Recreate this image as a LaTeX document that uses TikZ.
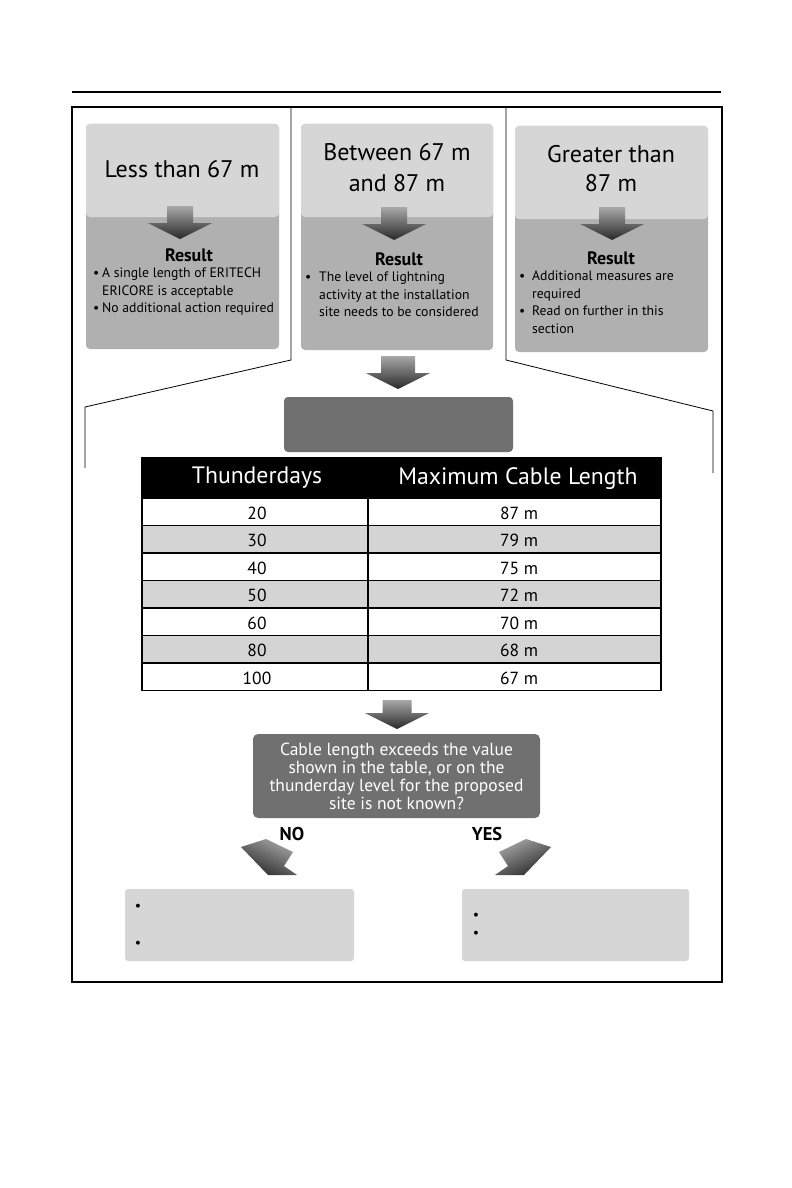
\documentclass[tikz,border=0pt]{standalone}
\usepackage{fontspec}
\setmainfont{PT Sans}
\definecolor{boxtop}{gray}{0.84}
\definecolor{boxbot}{gray}{0.69}
\definecolor{darkbox}{gray}{0.44}
\definecolor{rowgray}{gray}{0.83}
\definecolor{arrowlight}{gray}{0.66}
\definecolor{arrowdark}{gray}{0.16}
\begin{document}
\begin{tikzpicture}[x=1pt,y=-1pt,
  titletext/.style={font=\fontsize{24}{31}\selectfont, align=center, inner sep=0pt},
  restext/.style={font=\bfseries\fontsize{18}{20}\selectfont, inner sep=0pt},
  bultext/.style={font=\fontsize{13.7}{17.5}\selectfont, align=left, inner sep=0pt, anchor=north west},
  hdrtext/.style={font=\fontsize{23.7}{26}\selectfont, text=white, inner sep=0pt},
  celltext/.style={font=\fontsize{17.5}{20}\selectfont, inner sep=0pt},
  twotone/.style 2 args={rectangle, rounded corners=4pt, fill=boxbot, inner sep=0pt,
     minimum width=#1, minimum height=#2,
     path picture={\fill[boxtop] (path picture bounding box.north west) rectangle ([yshift=-93pt]path picture bounding box.north east);}},
  flatbox/.style={rectangle, rounded corners=4pt, inner sep=0pt},
  thinline/.style={line width=0.8pt},
  pics/dnarrow/.style n args={2}{code={
     \shade[top color=arrowlight, bottom color=arrowdark]
       (-#1,0) -- (#1,0) -- (#1,#2) -- (32,#2) -- (0,#2+16) -- (-32,#2) -- (-#1,#2) -- cycle;}}
]
\useasboundingbox (0,0) rectangle (792,1188);
\fill[white] (0,0) rectangle (792,1188);

% top rule and frame
\draw[line width=2.5pt] (72,92) -- (721,92);
\draw[line width=2pt] (72,107) rectangle (722,982);

% callout lines
\coordinate (la) at (291,107);
\coordinate (lb) at (291,360);
\coordinate (lc) at (85,407);
\coordinate (ld) at (85,468);
\coordinate (ra) at (506,107);
\coordinate (rb) at (506,360);
\coordinate (rc) at (713,411);
\coordinate (rd) at (713,473);
\draw[thinline] (la) -- (lb) -- (lc) -- (ld);
\draw[thinline] (ra) -- (rb) -- (rc) -- (rd);

% top boxes
\node[twotone={193pt}{225pt}] (b1) at (182.5,236.5) {};
\node[twotone={192pt}{226pt}] (b2) at (397,237) {};
\node[twotone={193pt}{226pt}] (b3) at (611.5,239) {};

\node[titletext, anchor=base] (t1) at (182,177) {Less than 67 m};
\node[titletext] (t2) at (397,168) {Between 67 m\\and 87 m};
\node[titletext, font=\fontsize{24}{29}\selectfont] (t3) at (611,169) {Greater than\\87 m};

\pic at (180,206) {dnarrow={13}{17}};
\pic at (394,207) {dnarrow={13}{17}};
\pic at (612,207) {dnarrow={13}{17}};

\node[restext] (r1) at (189,255) {Result};
\node[restext] (r2) at (399,259) {Result};
\node[restext] (r3) at (611,258) {Result};

\node[bultext] (u1) at (102,268) {\llap{\textbullet\hspace{3pt}}A single length of ERITECH\\ERICORE is acceptable\\\llap{\textbullet\hspace{3pt}}No additional action required};
\node[bultext] (u2) at (319,272) {\llap{\textbullet\hspace{8pt}}The level of lightning\\activity at the installation\\site needs to be considered};
\node[bultext] (u3) at (532,271) {\llap{\textbullet\hspace{7pt}}Additional measures are\\required\\\llap{\textbullet\hspace{7pt}}Read on further in this\\section};

% middle arrow and dark box
\pic at (398,356) {dnarrow={17}{17}};
\node[flatbox, fill=darkbox, minimum width=229pt, minimum height=55pt] (mid) at (398.5,424.5) {};

% table
\fill[black] (142,457) rectangle (661,498);
\node[hdrtext] (h1) at (257,478) {Thunderdays};
\node[hdrtext] (h2) at (518,479) {Maximum Cable Length};
\foreach \i/\a/\b in {1/20/87,2/30/79,3/40/75,4/50/72,5/60/70,6/80/68,7/100/67}{
  \pgfmathsetmacro{\top}{498+27.5*(\i-1)}
  \ifodd\i\else
    \fill[rowgray] (142,\top) rectangle (661,\top+27.5);
  \fi
  \node[celltext] (ca\i) at (257,\top+15) {\a};
  \node[celltext] (cb\i) at (519,\top+15) {\b\ m};
}
\foreach \i in {0,...,7}{
  \draw[line width=1.3pt] (142,498+27.5*\i) -- (661,498+27.5*\i);
}
\draw[line width=1.3pt] (142,457) -- (142,690.5);
\draw[line width=1.3pt] (661,457) -- (661,690.5);
\draw[line width=1.3pt] (368,498) -- (368,690.5);

% lower arrow and question box
\pic at (397,700) {dnarrow={14.5}{13}};
\node[flatbox, rounded corners=5pt, fill=darkbox, minimum width=287pt, minimum height=84pt,
      text=white, align=center, font=\fontsize{17.5}{18}\selectfont] (q) at (396.5,776)
      {Cable length exceeds the value\\shown in the table, or on the\\thunderday level for the proposed\\site is not known?};

\node[font=\bfseries\fontsize{18.5}{20}\selectfont, inner sep=0pt] (no) at (292,834) {NO};
\node[font=\bfseries\fontsize{18.5}{20}\selectfont, inner sep=0pt] (yes) at (487,834) {YES};

\shade[top color=arrowlight, bottom color=arrowdark, shading angle=-25]
  (241,847) -- (266,839) -- (293,852) -- (284,866) -- (297,875) -- (268,875) -- cycle;
\shade[top color=arrowlight, bottom color=arrowdark, shading angle=25]
  (551,847) -- (526,839) -- (499,852) -- (508,866) -- (495,875) -- (524,875) -- cycle;

% bottom boxes
\node[flatbox, rounded corners=3pt, fill=boxtop, minimum width=229pt, minimum height=72pt] (nob) at (239.5,925) {};
\node[flatbox, rounded corners=3pt, fill=boxtop, minimum width=227pt, minimum height=72pt] (yesb) at (575.5,925) {};
\node[font=\fontsize{14}{14}\selectfont, inner sep=0pt] (nb1) at (138,907) {\textbullet};
\node[font=\fontsize{14}{14}\selectfont, inner sep=0pt] (nb2) at (138,944) {\textbullet};
\node[font=\fontsize{14}{14}\selectfont, inner sep=0pt] (yb1) at (476,916) {\textbullet};
\node[font=\fontsize{14}{14}\selectfont, inner sep=0pt] (yb2) at (476,934) {\textbullet};
\end{tikzpicture}
\end{document}
